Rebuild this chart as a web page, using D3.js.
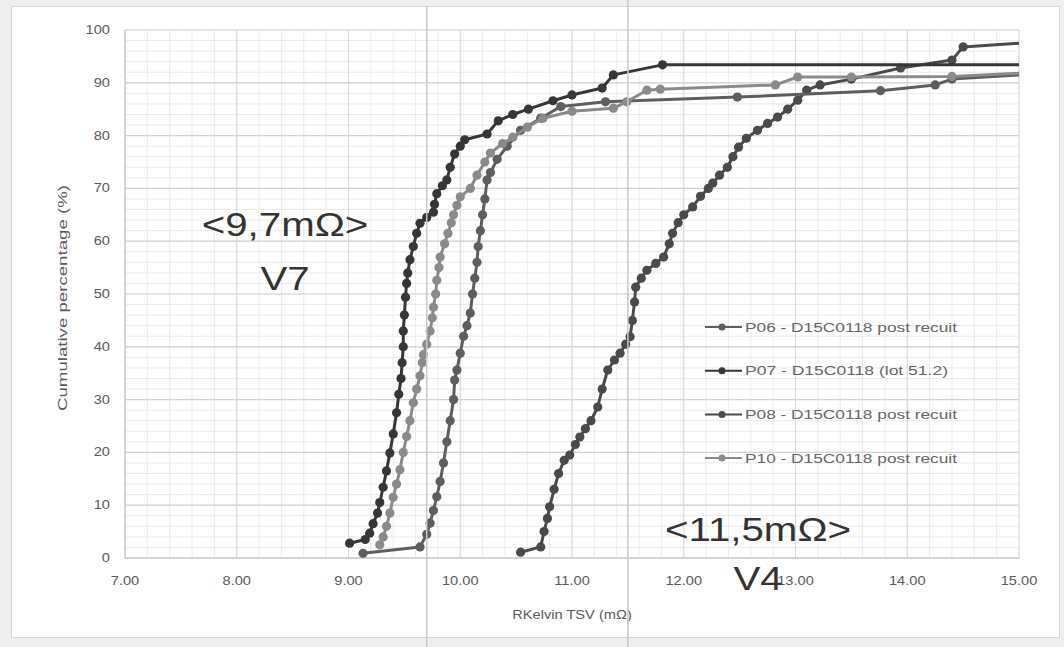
<!DOCTYPE html>
<html>
<head>
<meta charset="utf-8">
<script src="https://cdn.jsdelivr.net/npm/d3@7"></script>
<style>
  html, body { margin: 0; padding: 0; background: #efefef; }
  svg { display: block; }
  text { font-family: "Liberation Sans", Arial, sans-serif; }
</style>
</head>
<body>
<div id="chart"></div>
<script>

// ---- data ----
let seriesNames = ["P06 - D15C0118 post recuit", "P07 - D15C0118 (lot 51.2)", "P08 - D15C0118 post recuit", "P10 - D15C0118 post recuit"];
let seriesColors = ["#5e5e5e", "#363636", "#4a4a4a", "#8a8a8a"];

let p06x = [9.13, 9.64, 9.70, 9.73, 9.76, 9.79, 9.82, 9.85, 9.88, 9.91, 9.94, 9.95, 9.97, 10.00, 10.03, 10.06, 10.09, 10.11, 10.13, 10.15, 10.16, 10.18, 10.20, 10.22, 10.24, 10.27, 10.33, 10.42, 10.54, 10.72, 10.90, 11.30, 12.48, 13.76, 14.25, 14.40, 15.00];
let p06y = [0.9, 2.1, 4.5, 6.6, 9, 11.6, 14.5, 18, 22, 26, 30, 33.7, 35.6, 38.8, 42, 44, 46.4, 50, 53, 56, 59, 62, 65, 68, 71.6, 73, 75.5, 78, 81, 83.3, 85.5, 86.4, 87.3, 88.5, 89.6, 90.7, 91.5];

let p07x = [9.01, 9.15, 9.19, 9.22, 9.26, 9.28, 9.31, 9.34, 9.37, 9.40, 9.43, 9.45, 9.47, 9.48, 9.49, 9.49, 9.50, 9.51, 9.52, 9.53, 9.55, 9.58, 9.61, 9.64, 9.70, 9.76, 9.77, 9.79, 9.84, 9.88, 9.91, 9.95, 10.00, 10.04, 10.24, 10.34, 10.47, 10.61, 10.83, 11.00, 11.27, 11.37, 11.81, 15.00];
let p07y = [2.8, 3.5, 4.7, 6.5, 8.5, 10.5, 13.4, 16.5, 19.9, 23.5, 27.5, 31, 34, 37, 40, 43, 46, 49.4, 52, 54, 56.5, 59, 61.5, 63.4, 64.5, 65.5, 67, 69, 70.5, 71.6, 74, 76.5, 78, 79.2, 80.3, 82.8, 84, 85, 86.6, 87.7, 89, 91.5, 93.4, 93.4];

let p08x = [10.54, 10.72, 10.75, 10.78, 10.80, 10.84, 10.88, 10.93, 10.98, 11.03, 11.07, 11.12, 11.17, 11.23, 11.27, 11.32, 11.38, 11.43, 11.48, 11.52, 11.54, 11.56, 11.57, 11.62, 11.67, 11.75, 11.82, 11.87, 11.90, 11.95, 12.00, 12.08, 12.15, 12.22, 12.26, 12.32, 12.39, 12.44, 12.49, 12.56, 12.66, 12.75, 12.84, 12.93, 13.02, 13.10, 13.22, 13.50, 13.94, 14.40, 14.50, 15.00];
let p08y = [1.1, 2.1, 5, 7.5, 9.7, 13, 16, 18.5, 19.5, 21.5, 22.9, 24.5, 26, 28.6, 32, 35.6, 37.5, 38.8, 40.5, 41.9, 45, 48.5, 51.3, 53, 54.5, 55.8, 57, 59.5, 61.5, 63.5, 65, 66.5, 68.5, 70, 71, 72.5, 74, 76, 77.8, 79.5, 81, 82.3, 83.5, 85, 86.7, 88.6, 89.6, 90.7, 92.8, 94.3, 96.8, 97.5];

let p10x = [9.28, 9.31, 9.34, 9.37, 9.40, 9.43, 9.46, 9.49, 9.52, 9.55, 9.58, 9.61, 9.64, 9.66, 9.67, 9.70, 9.73, 9.75, 9.76, 9.78, 9.79, 9.81, 9.82, 9.86, 9.89, 9.92, 9.94, 9.97, 10.00, 10.09, 10.15, 10.22, 10.27, 10.38, 10.47, 10.60, 10.74, 11.00, 11.37, 11.49, 11.67, 11.79, 12.82, 13.02, 13.50, 14.40, 15.00];
let p10y = [2.5, 4, 6, 8.5, 11.5, 14, 16.7, 20, 23, 26, 29.4, 32, 34.5, 37, 38.5, 40.5, 43, 45.5, 47.5, 50, 52.6, 55, 57, 59.5, 61.5, 63.5, 65, 66.8, 68.4, 70, 72.5, 75, 76.7, 78.5, 79.7, 81.6, 83.3, 84.6, 85.2, 86.4, 88.6, 88.8, 89.6, 91.1, 91.1, 91.2, 91.8];

let xTicks = [7, 8, 9, 10, 11, 12, 13, 14, 15];
let yTicks = [0, 10, 20, 30, 40, 50, 60, 70, 80, 90, 100];
let refValues = [9.7, 11.5];
let refLabels = [["<9,7mΩ>", "V7"], ["<11,5mΩ>", "V4"]];

// ---- setup ----
let width = 1064;
let height = 647;
let stretch = 1.22;   // the picture's text is a bit wide

let svg = d3.select("#chart")
	.append("svg")
	.attr("width", width)
	.attr("height", height);

svg.append("rect")
	.attr("x", 11.5)
	.attr("y", 6.5)
	.attr("width", 1048)
	.attr("height", 631)
	.attr("fill", "white")
	.attr("stroke", "#d6d6d6");

let x = d3.scaleLinear().domain([7, 15]).range([125, 1019]);
let y = d3.scaleLinear().domain([0, 100]).range([558, 30]);

// text helper, widens text the way the picture does
function wideText(g, tx, ty, str, size, anchor, color)
{
	return g.append("text")
		.attr("transform", "translate(" + tx + "," + ty + ") scale(" + stretch + ",1)")
		.attr("text-anchor", anchor)
		.attr("font-size", size)
		.attr("fill", color)
		.text(str);
}

// ---- grid ----
let grid = svg.append("g");

grid.selectAll(".vminor")
	.data(d3.range(7, 15.001, 0.2))
	.enter().append("line")
	.attr("x1", d => x(d)).attr("x2", d => x(d))
	.attr("y1", y(100)).attr("y2", y(0))
	.attr("stroke", "#ececec")
	.attr("stroke-width", 1);

grid.selectAll(".hminor")
	.data(d3.range(0, 100.001, 2))
	.enter().append("line")
	.attr("x1", x(7)).attr("x2", x(15))
	.attr("y1", d => y(d)).attr("y2", d => y(d))
	.attr("stroke", "#eaeaea")
	.attr("stroke-width", 1);

grid.selectAll(".vmajor")
	.data(xTicks)
	.enter().append("line")
	.attr("x1", d => x(d)).attr("x2", d => x(d))
	.attr("y1", y(100)).attr("y2", y(0))
	.attr("stroke", "#d9d9d9")
	.attr("stroke-width", 1);

grid.selectAll(".hmajor")
	.data(yTicks)
	.enter().append("line")
	.attr("x1", x(7)).attr("x2", x(15))
	.attr("y1", d => y(d)).attr("y2", d => y(d))
	.attr("stroke", "#d3d3d3")
	.attr("stroke-width", 1.2);

// axis lines
svg.append("line")
	.attr("x1", x(7)).attr("x2", x(7))
	.attr("y1", y(100)).attr("y2", y(0))
	.attr("stroke", "#c4c4c4");
svg.append("line")
	.attr("x1", x(7)).attr("x2", x(15))
	.attr("y1", y(0)).attr("y2", y(0))
	.attr("stroke", "#c4c4c4");

// tick labels
let ticks = svg.append("g");
xTicks.forEach(function(t){
	wideText(ticks, x(t), y(0) + 27, d3.format(".2f")(t), 12, "middle", "#5a5a5a");
});
yTicks.forEach(function(t){
	wideText(ticks, 110, y(t) + 4, t, 12, "end", "#5a5a5a");
});

// axis titles
svg.append("text")
	.attr("transform", "translate(67," + ((y(0) + y(100)) / 2 + 4) + ") rotate(-90)")
	.attr("text-anchor", "middle")
	.attr("font-size", 13)
	.attr("textLength", 226)
	.attr("lengthAdjust", "spacingAndGlyphs")
	.attr("fill", "#5a5a5a")
	.text("Cumulative percentage (%)");

wideText(svg, 572, 619, "RKelvin TSV (mΩ)", 12, "middle", "#5a5a5a");

// ---- series ----
let allSeries = [
	{ name: seriesNames[0], color: seriesColors[0], xs: p06x, ys: p06y },
	{ name: seriesNames[1], color: seriesColors[1], xs: p07x, ys: p07y },
	{ name: seriesNames[2], color: seriesColors[2], xs: p08x, ys: p08y },
	{ name: seriesNames[3], color: seriesColors[3], xs: p10x, ys: p10y }
];

let line = d3.line()
	.x(d => x(d[0]))
	.y(d => y(d[1]));

let drawOrder = [2, 0, 3, 1];
drawOrder.forEach(function(i){
	let s = allSeries[i];
	let pts = s.xs.map((v, k) => [v, s.ys[k]]);
	let g = svg.append("g");
	g.append("path")
		.datum(pts)
		.attr("d", line)
		.attr("fill", "none")
		.attr("stroke", s.color)
		.attr("stroke-width", 3)
		.attr("stroke-linejoin", "round");
	g.selectAll("circle")
		.data(pts.slice(0, pts.length - 1))
		.enter().append("circle")
		.attr("cx", d => x(d[0]))
		.attr("cy", d => y(d[1]))
		.attr("r", 4.6)
		.attr("fill", s.color);
});

// ---- legend ----
let legend = svg.append("g");
allSeries.forEach(function(s, i){
	let ly = 327 + i * 43.7;
	legend.append("line")
		.attr("x1", 705).attr("x2", 742)
		.attr("y1", ly).attr("y2", ly)
		.attr("stroke", s.color)
		.attr("stroke-width", 2);
	legend.append("circle")
		.attr("cx", 722).attr("cy", ly)
		.attr("r", 3.5)
		.attr("fill", s.color);
	legend.append("text")
		.attr("x", 745)
		.attr("y", ly + 4.5)
		.attr("font-size", 12.5)
		.attr("textLength", i == 1 ? 203 : 212)
		.attr("lengthAdjust", "spacingAndGlyphs")
		.attr("fill", "#666666")
		.text(s.name);
});

// ---- reference lines and notes ----
refValues.forEach(function(v, i){
	svg.append("line")
		.attr("x1", x(v)).attr("x2", x(v))
		.attr("y1", i == 0 ? 6 : 0).attr("y2", height)
		.attr("stroke", "#c8c8c8")
		.attr("stroke-width", 1.5);
});

let notePos = [[285, 236, 290], [758, 541, 590]];
refLabels.forEach(function(lab, i){
	wideText(svg, notePos[i][0], notePos[i][1], lab[0], 33, "middle", "#333333");
	wideText(svg, notePos[i][0], notePos[i][2], lab[1], 33, "middle", "#333333");
});

</script>
</body>
</html>
